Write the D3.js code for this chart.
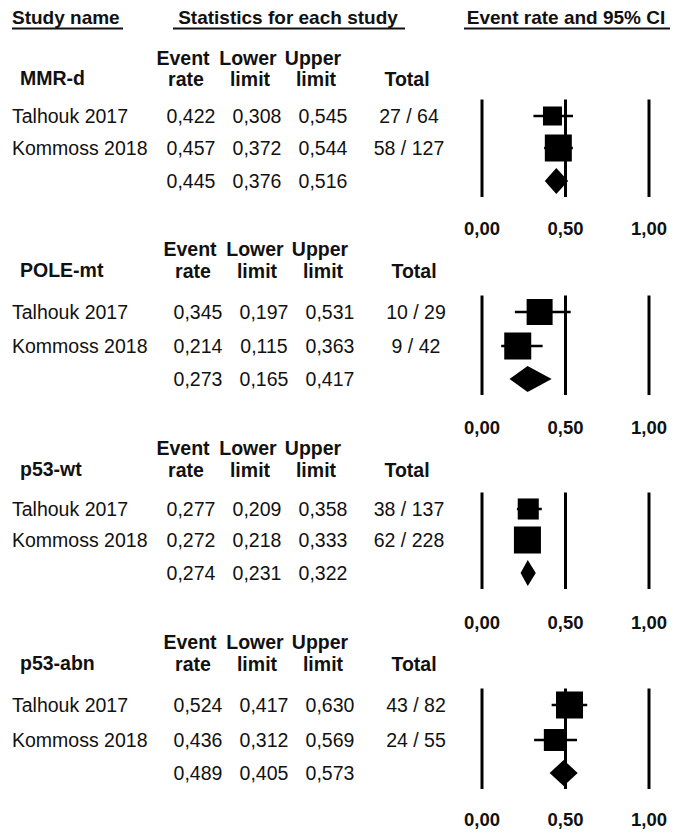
<!DOCTYPE html>
<html>
<head>
<meta charset="utf-8">
<script src="https://cdn.jsdelivr.net/npm/d3@7"></script>
<style>
  html, body { margin: 0; padding: 0; background: #fff; }
  svg { display: block; }
  text { font-family: "Liberation Sans", Arial, Helvetica, sans-serif; fill: #111; }
</style>
</head>
<body>
<svg id="chart" width="682" height="834"></svg>
<script>
// Event rates of the molecular subgroups, per study, with 95% CI
const subgroups = ["MMR-d", "POLE-mt", "p53-wt", "p53-abn"];
const studyNames = ["Talhouk 2017", "Kommoss 2018"];
const eventRate  = [[0.422, 0.457], [0.345, 0.214], [0.277, 0.272], [0.524, 0.436]];
const lowerLimit = [[0.308, 0.372], [0.197, 0.115], [0.209, 0.218], [0.417, 0.312]];
const upperLimit = [[0.545, 0.544], [0.531, 0.363], [0.358, 0.333], [0.630, 0.569]];
const events     = [[27, 58], [10, 9], [38, 62], [43, 24]];
const totals     = [[64, 127], [29, 42], [137, 228], [82, 55]];
const pooledRate  = [0.445, 0.273, 0.274, 0.489];
const pooledLower = [0.376, 0.165, 0.231, 0.405];
const pooledUpper = [0.516, 0.417, 0.322, 0.573];
const axisTicks = [0, 0.5, 1];

const columnHeads = [["Event", "rate"], ["Lower", "limit"], ["Upper", "limit"]];

// Vertical layout of each panel: header lines, study rows, pooled row, tick labels
const panelLayout = [
  { head1: 58,  head2: 79,  rows: [116, 148], pooled: 181, ticks: 228, dx: 0 },
  { head1: 249, head2: 271, rows: [312, 346], pooled: 379, ticks: 427, dx: 7 },
  { head1: 448, head2: 470, rows: [509, 540], pooled: 573, ticks: 622, dx: 0 },
  { head1: 642, head2: 664, rows: [705, 740], pooled: 773, ticks: 819, dx: 7 }
];

const svg = d3.select("#chart");
const locale = d3.formatLocale({ decimal: ",", thousands: ".", grouping: [3], currency: ["", ""] });
const fmt3 = locale.format(".3f");
const fmt2 = locale.format(".2f");

const x = d3.scaleLinear().domain([0, 1]).range([482, 649]);

const FS = 19.5;
const valueX = [191, 257, 323];
const headX1 = [183, 248, 313];
const headX2 = [186, 250, 316];
const totalX = 409;
const totalHeadX = 407;

// Column titles with underlines
const titles = [
  { text: "Study name", x: 12, anchor: "start", x0: 12, x1: 123 },
  { text: "Statistics for each study", x: 288, anchor: "middle", x0: 173, x1: 405 },
  { text: "Event rate and 95% CI", x: 566, anchor: "middle", x0: 464, x1: 670 }
];
titles.forEach(t => {
  svg.append("text").attr("x", t.x).attr("y", 24).attr("text-anchor", t.anchor)
    .attr("font-size", 19).attr("font-weight", "bold").text(t.text);
  svg.append("line").attr("x1", t.x0).attr("x2", t.x1).attr("y1", 28.5).attr("y2", 28.5)
    .attr("stroke", "#111").attr("stroke-width", 2);
});

const dy = "0.36em";

subgroups.forEach((name, g) => {
  const L = panelLayout[g];
  const p = svg.append("g");

  // subgroup name and column headers
  p.append("text").attr("x", 20).attr("y", L.head2 - 1).attr("dy", dy)
    .attr("font-size", FS).attr("font-weight", "bold").text(name);
  columnHeads.forEach((h, i) => {
    p.append("text").attr("x", headX1[i] + L.dx).attr("y", L.head1).attr("dy", dy)
      .attr("text-anchor", "middle").attr("font-size", FS).attr("font-weight", "bold").text(h[0]);
    p.append("text").attr("x", headX2[i] + L.dx).attr("y", L.head2).attr("dy", dy)
      .attr("text-anchor", "middle").attr("font-size", FS).attr("font-weight", "bold").text(h[1]);
  });
  p.append("text").attr("x", totalHeadX + L.dx).attr("y", L.head2).attr("dy", dy)
    .attr("text-anchor", "middle").attr("font-size", FS).attr("font-weight", "bold").text("Total");

  // study rows
  studyNames.forEach((s, i) => {
    const y = L.rows[i];
    p.append("text").attr("x", 12).attr("y", y).attr("dy", dy).attr("font-size", FS).text(s);
    [eventRate[g][i], lowerLimit[g][i], upperLimit[g][i]].forEach((v, k) => {
      p.append("text").attr("x", valueX[k] + L.dx).attr("y", y).attr("dy", dy)
        .attr("text-anchor", "middle").attr("font-size", FS).text(fmt3(v));
    });
    p.append("text").attr("x", totalX + L.dx).attr("y", y).attr("dy", dy)
      .attr("text-anchor", "middle").attr("font-size", FS)
      .text(events[g][i] + " / " + totals[g][i]);
  });

  // pooled row
  [pooledRate[g], pooledLower[g], pooledUpper[g]].forEach((v, k) => {
    p.append("text").attr("x", valueX[k] + L.dx).attr("y", L.pooled).attr("dy", dy)
      .attr("text-anchor", "middle").attr("font-size", FS).text(fmt3(v));
  });

  // reference lines at the tick values
  const yTop = L.rows[0] - 16.5, yBot = L.pooled + 16;
  p.selectAll("line.ref").data(axisTicks).join("line").attr("class", "ref")
    .attr("x1", d => x(d)).attr("x2", d => x(d)).attr("y1", yTop).attr("y2", yBot)
    .attr("stroke", "#000").attr("stroke-width", 3);

  // tick labels
  p.selectAll("text.tick").data(axisTicks).join("text").attr("class", "tick")
    .attr("x", d => x(d)).attr("y", L.ticks).attr("dy", dy).attr("text-anchor", "middle")
    .attr("font-size", 18.5).attr("font-weight", "bold").text(d => fmt2(d));

  // study weights (inverse variance on the logit scale) set the box sizes
  const w = events[g].map((e, i) => e * (totals[g][i] - e) / totals[g][i]);
  const wMax = d3.max(w);
  const side = d3.scaleSqrt().domain([0, wMax]).range([0, 27]);

  studyNames.forEach((s, i) => {
    const y = L.rows[i];
    p.append("line").attr("x1", x(lowerLimit[g][i])).attr("x2", x(upperLimit[g][i]))
      .attr("y1", y).attr("y2", y).attr("stroke", "#000").attr("stroke-width", 2.5);
    const a = side(w[i]);
    p.append("rect").attr("x", x(eventRate[g][i]) - a / 2).attr("y", y - a / 2)
      .attr("width", a).attr("height", a).attr("fill", "#000");
  });

  // pooled estimate diamond
  const yc = L.pooled, hh = 13;
  p.append("path")
    .attr("d", `M${x(pooledLower[g])},${yc} L${x(pooledRate[g])},${yc - hh} L${x(pooledUpper[g])},${yc} L${x(pooledRate[g])},${yc + hh} Z`)
    .attr("fill", "#000");
});
</script>
</body>
</html>
